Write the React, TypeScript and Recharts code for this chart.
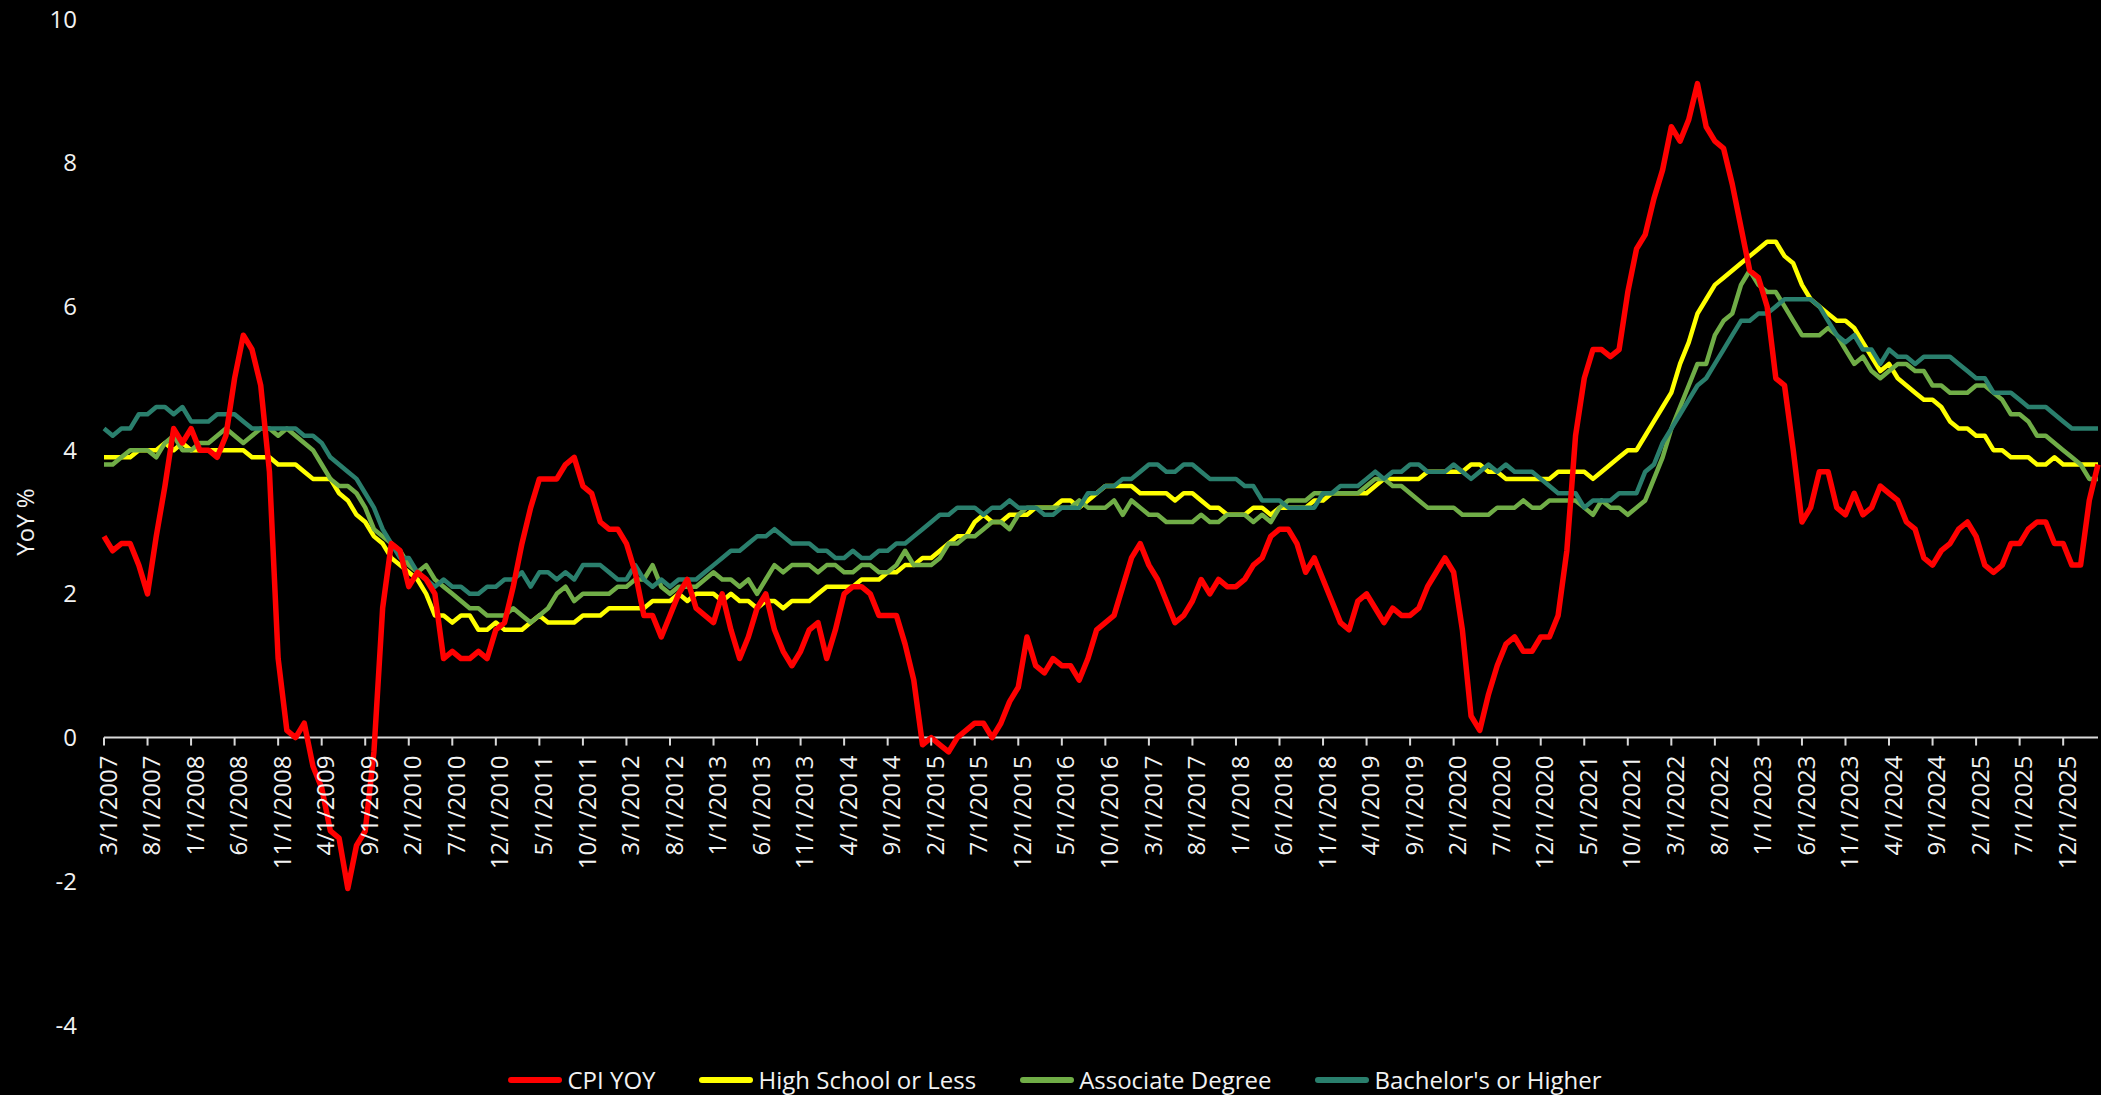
import React from 'react';
import { LineChart, Line, XAxis, YAxis, ReferenceLine, Legend } from 'recharts';

// monthly, 3/1/2007 .. 4/1/2026
const START_YEAR = 2007;
const START_MONTH = 3;
const N_MONTHS = 230;
const dates: string[] = [];
for (let i = 0; i < N_MONTHS; i++) {
  const m = ((START_MONTH - 1 + i) % 12) + 1;
  const y = START_YEAR + Math.floor((START_MONTH - 1 + i) / 12);
  dates.push(`${m}/1/${y}`);
}

const cpiYoy = [
  2.8, 2.6, 2.7, 2.7, 2.4, 2.0, 2.8, 3.5, 4.3, 4.1,
  4.3, 4.0, 4.0, 3.9, 4.2, 5.0, 5.6, 5.4, 4.9, 3.7,
  1.1, 0.1, 0.0, 0.2, -0.4, -0.7, -1.3, -1.4, -2.1, -1.5,
  -1.3, -0.2, 1.8, 2.7, 2.6, 2.1, 2.3, 2.2, 2.0, 1.1,
  1.2, 1.1, 1.1, 1.2, 1.1, 1.5, 1.6, 2.1, 2.7, 3.2,
  3.6, 3.6, 3.6, 3.8, 3.9, 3.5, 3.4, 3.0, 2.9, 2.9,
  2.7, 2.3, 1.7, 1.7, 1.4, 1.7, 2.0, 2.2, 1.8, 1.7,
  1.6, 2.0, 1.5, 1.1, 1.4, 1.8, 2.0, 1.5, 1.2, 1.0,
  1.2, 1.5, 1.6, 1.1, 1.5, 2.0, 2.1, 2.1, 2.0, 1.7,
  1.7, 1.7, 1.3, 0.8, -0.1, 0.0, -0.1, -0.2, 0.0, 0.1,
  0.2, 0.2, 0.0, 0.2, 0.5, 0.7, 1.4, 1.0, 0.9, 1.1,
  1.0, 1.0, 0.8, 1.1, 1.5, 1.6, 1.7, 2.1, 2.5, 2.7,
  2.4, 2.2, 1.9, 1.6, 1.7, 1.9, 2.2, 2.0, 2.2, 2.1,
  2.1, 2.2, 2.4, 2.5, 2.8, 2.9, 2.9, 2.7, 2.3, 2.5,
  2.2, 1.9, 1.6, 1.5, 1.9, 2.0, 1.8, 1.6, 1.8, 1.7,
  1.7, 1.8, 2.1, 2.3, 2.5, 2.3, 1.5, 0.3, 0.1, 0.6,
  1.0, 1.3, 1.4, 1.2, 1.2, 1.4, 1.4, 1.7, 2.6, 4.2,
  5.0, 5.4, 5.4, 5.3, 5.4, 6.2, 6.8, 7.0, 7.5, 7.9,
  8.5, 8.3, 8.6, 9.1, 8.5, 8.3, 8.2, 7.7, 7.1, 6.5,
  6.4, 6.0, 5.0, 4.9, 4.0, 3.0, 3.2, 3.7, 3.7, 3.2,
  3.1, 3.4, 3.1, 3.2, 3.5, 3.4, 3.3, 3.0, 2.9, 2.5,
  2.4, 2.6, 2.7, 2.9, 3.0, 2.8, 2.4, 2.3, 2.4, 2.7,
  2.7, 2.9, 3.0, 3.0, 2.7, 2.7, 2.4, 2.4, 3.3, 3.8,
];

const highSchool = [
  3.9, 3.9, 3.9, 3.9, 4.0, 4.0, 4.0, 4.1, 4.0, 4.1,
  4.0, 4.0, 4.0, 4.0, 4.0, 4.0, 4.0, 3.9, 3.9, 3.9,
  3.8, 3.8, 3.8, 3.7, 3.6, 3.6, 3.6, 3.4, 3.3, 3.1,
  3.0, 2.8, 2.7, 2.5, 2.4, 2.3, 2.2, 2.0, 1.7, 1.7,
  1.6, 1.7, 1.7, 1.5, 1.5, 1.6, 1.5, 1.5, 1.5, 1.6,
  1.7, 1.6, 1.6, 1.6, 1.6, 1.7, 1.7, 1.7, 1.8, 1.8,
  1.8, 1.8, 1.8, 1.9, 1.9, 1.9, 2.0, 1.9, 2.0, 2.0,
  2.0, 1.9, 2.0, 1.9, 1.9, 1.8, 1.9, 1.9, 1.8, 1.9,
  1.9, 1.9, 2.0, 2.1, 2.1, 2.1, 2.1, 2.2, 2.2, 2.2,
  2.3, 2.3, 2.4, 2.4, 2.5, 2.5, 2.6, 2.7, 2.8, 2.8,
  3.0, 3.1, 3.0, 3.0, 3.1, 3.1, 3.1, 3.2, 3.2, 3.2,
  3.3, 3.3, 3.2, 3.3, 3.4, 3.5, 3.5, 3.5, 3.5, 3.4,
  3.4, 3.4, 3.4, 3.3, 3.4, 3.4, 3.3, 3.2, 3.2, 3.1,
  3.1, 3.1, 3.2, 3.2, 3.1, 3.2, 3.2, 3.2, 3.2, 3.3,
  3.3, 3.4, 3.4, 3.4, 3.4, 3.4, 3.5, 3.6, 3.6, 3.6,
  3.6, 3.6, 3.7, 3.7, 3.7, 3.7, 3.7, 3.8, 3.8, 3.7,
  3.7, 3.6, 3.6, 3.6, 3.6, 3.6, 3.6, 3.7, 3.7, 3.7,
  3.7, 3.6, 3.7, 3.8, 3.9, 4.0, 4.0, 4.2, 4.4, 4.6,
  4.8, 5.2, 5.5, 5.9, 6.1, 6.3, 6.4, 6.5, 6.6, 6.7,
  6.8, 6.9, 6.9, 6.7, 6.6, 6.3, 6.1, 6.0, 5.9, 5.8,
  5.8, 5.7, 5.5, 5.3, 5.1, 5.2, 5.0, 4.9, 4.8, 4.7,
  4.7, 4.6, 4.4, 4.3, 4.3, 4.2, 4.2, 4.0, 4.0, 3.9,
  3.9, 3.9, 3.8, 3.8, 3.9, 3.8, 3.8, 3.8, 3.8, 3.8,
];

const associate = [
  3.8, 3.8, 3.9, 4.0, 4.0, 4.0, 3.9, 4.1, 4.2, 4.0,
  4.0, 4.1, 4.1, 4.2, 4.3, 4.2, 4.1, 4.2, 4.3, 4.3,
  4.2, 4.3, 4.2, 4.1, 4.0, 3.8, 3.6, 3.5, 3.5, 3.4,
  3.2, 2.9, 2.8, 2.7, 2.6, 2.4, 2.3, 2.4, 2.2, 2.1,
  2.0, 1.9, 1.8, 1.8, 1.7, 1.7, 1.7, 1.8, 1.7, 1.6,
  1.7, 1.8, 2.0, 2.1, 1.9, 2.0, 2.0, 2.0, 2.0, 2.1,
  2.1, 2.2, 2.2, 2.4, 2.1, 2.0, 2.1, 2.1, 2.1, 2.2,
  2.3, 2.2, 2.2, 2.1, 2.2, 2.0, 2.2, 2.4, 2.3, 2.4,
  2.4, 2.4, 2.3, 2.4, 2.4, 2.3, 2.3, 2.4, 2.4, 2.3,
  2.3, 2.4, 2.6, 2.4, 2.4, 2.4, 2.5, 2.7, 2.7, 2.8,
  2.8, 2.9, 3.0, 3.0, 2.9, 3.1, 3.2, 3.2, 3.2, 3.2,
  3.2, 3.2, 3.3, 3.2, 3.2, 3.2, 3.3, 3.1, 3.3, 3.2,
  3.1, 3.1, 3.0, 3.0, 3.0, 3.0, 3.1, 3.0, 3.0, 3.1,
  3.1, 3.1, 3.0, 3.1, 3.0, 3.2, 3.3, 3.3, 3.3, 3.4,
  3.4, 3.4, 3.4, 3.4, 3.4, 3.5, 3.6, 3.6, 3.5, 3.5,
  3.4, 3.3, 3.2, 3.2, 3.2, 3.2, 3.1, 3.1, 3.1, 3.1,
  3.2, 3.2, 3.2, 3.3, 3.2, 3.2, 3.3, 3.3, 3.3, 3.3,
  3.2, 3.1, 3.3, 3.2, 3.2, 3.1, 3.2, 3.3, 3.6, 3.9,
  4.3, 4.6, 4.9, 5.2, 5.2, 5.6, 5.8, 5.9, 6.3, 6.5,
  6.3, 6.2, 6.2, 6.0, 5.8, 5.6, 5.6, 5.6, 5.7, 5.6,
  5.4, 5.2, 5.3, 5.1, 5.0, 5.1, 5.2, 5.2, 5.1, 5.1,
  4.9, 4.9, 4.8, 4.8, 4.8, 4.9, 4.9, 4.8, 4.7, 4.5,
  4.5, 4.4, 4.2, 4.2, 4.1, 4.0, 3.9, 3.8, 3.6, 3.6,
];

const bachelors = [
  4.3, 4.2, 4.3, 4.3, 4.5, 4.5, 4.6, 4.6, 4.5, 4.6,
  4.4, 4.4, 4.4, 4.5, 4.5, 4.5, 4.4, 4.3, 4.3, 4.3,
  4.3, 4.3, 4.3, 4.2, 4.2, 4.1, 3.9, 3.8, 3.7, 3.6,
  3.4, 3.2, 2.9, 2.7, 2.5, 2.5, 2.3, 2.2, 2.1, 2.2,
  2.1, 2.1, 2.0, 2.0, 2.1, 2.1, 2.2, 2.2, 2.3, 2.1,
  2.3, 2.3, 2.2, 2.3, 2.2, 2.4, 2.4, 2.4, 2.3, 2.2,
  2.2, 2.4, 2.2, 2.1, 2.2, 2.1, 2.2, 2.2, 2.2, 2.3,
  2.4, 2.5, 2.6, 2.6, 2.7, 2.8, 2.8, 2.9, 2.8, 2.7,
  2.7, 2.7, 2.6, 2.6, 2.5, 2.5, 2.6, 2.5, 2.5, 2.6,
  2.6, 2.7, 2.7, 2.8, 2.9, 3.0, 3.1, 3.1, 3.2, 3.2,
  3.2, 3.1, 3.2, 3.2, 3.3, 3.2, 3.2, 3.2, 3.1, 3.1,
  3.2, 3.2, 3.2, 3.4, 3.4, 3.5, 3.5, 3.6, 3.6, 3.7,
  3.8, 3.8, 3.7, 3.7, 3.8, 3.8, 3.7, 3.6, 3.6, 3.6,
  3.6, 3.5, 3.5, 3.3, 3.3, 3.3, 3.2, 3.2, 3.2, 3.2,
  3.4, 3.4, 3.5, 3.5, 3.5, 3.6, 3.7, 3.6, 3.7, 3.7,
  3.8, 3.8, 3.7, 3.7, 3.7, 3.8, 3.7, 3.6, 3.7, 3.8,
  3.7, 3.8, 3.7, 3.7, 3.7, 3.6, 3.5, 3.4, 3.4, 3.4,
  3.2, 3.3, 3.3, 3.3, 3.4, 3.4, 3.4, 3.7, 3.8, 4.1,
  4.3, 4.5, 4.7, 4.9, 5.0, 5.2, 5.4, 5.6, 5.8, 5.8,
  5.9, 5.9, 6.0, 6.1, 6.1, 6.1, 6.1, 6.0, 5.8, 5.6,
  5.5, 5.6, 5.4, 5.4, 5.2, 5.4, 5.3, 5.3, 5.2, 5.3,
  5.3, 5.3, 5.3, 5.2, 5.1, 5.0, 5.0, 4.8, 4.8, 4.8,
  4.7, 4.6, 4.6, 4.6, 4.5, 4.4, 4.3, 4.3, 4.3, 4.3,
];

const yTicks = [-4, -2, 0, 2, 4, 6, 8, 10];
const Y_MIN = -4;
const Y_MAX = 10;

const series = [
  { key: 'cpi', name: 'CPI YOY', color: '#FF0000', width: 5.5 },
  { key: 'hs', name: 'High School or Less', color: '#FFFF00', width: 4.5 },
  { key: 'assoc', name: 'Associate Degree', color: '#70AD47', width: 4.5 },
  { key: 'bach', name: "Bachelor's or Higher", color: '#2A7F6D', width: 4.5 },
];

const data = dates.map((d, i) => ({
  date: d,
  cpi: cpiYoy[i],
  hs: highSchool[i],
  assoc: associate[i],
  bach: bachelors[i],
}));

const FONT = '"Open Sans", sans-serif';
const TEXT = '#F2F2F2';
const AXIS = '#D9D9D9';
const W = 2101;
const H = 1095;
const MARGIN = { top: 19, right: 3, left: 0, bottom: 1 };

// x axis sits on the zero line, so shift each tick from the plot bottom up to y = 0
const DateTick = (props: any) => {
  const { x, y, payload } = props;
  const top = MARGIN.top;
  const zeroY = top + (y - top) * (Y_MAX - 0) / (Y_MAX - Y_MIN);
  return (
    <g transform={`translate(${x},${zeroY})`}>
      <line x1={0} y1={0} x2={0} y2={8} stroke={AXIS} strokeWidth={2} />
      <text
        transform="rotate(-90)"
        x={-18}
        y={4}
        dy="0.36em"
        textAnchor="end"
        fill={TEXT}
        fontSize={24}
        fontFamily={FONT}
      >
        {payload.value}
      </text>
    </g>
  );
};

const YLabel = (props: any) => {
  const vb = props.viewBox || { x: 0, y: MARGIN.top, width: 104, height: 1006 };
  const cx = vb.x + 24;
  const cy = vb.y + vb.height / 2;
  return (
    <text
      x={cx}
      y={cy}
      transform={`rotate(-90, ${cx}, ${cy})`}
      textAnchor="middle"
      dominantBaseline="central"
      fill={TEXT}
      fontSize={24}
      fontFamily={FONT}
    >
      YoY %
    </text>
  );
};

const LegendBox = () => (
  <div
    style={{
      display: 'flex',
      justifyContent: 'center',
      alignItems: 'center',
      height: 30,
      paddingTop: 2,
      paddingLeft: 12,
      boxSizing: 'border-box',
      gap: 44,
      fontFamily: FONT,
      fontSize: 24,
      color: TEXT,
      lineHeight: '24px',
    }}
  >
    {series.map((s) => (
      <div key={s.key} style={{ display: 'flex', alignItems: 'center' }}>
        <svg width={54} height={8}>
          <line x1={3} y1={4} x2={51} y2={4} stroke={s.color} strokeWidth={6} strokeLinecap="round" />
        </svg>
        <span style={{ marginLeft: 5, whiteSpace: 'nowrap' }}>{s.name}</span>
      </div>
    ))}
  </div>
);

export default function App() {
  // draw wage lines first and CPI on top
  const drawOrder = [series[1], series[2], series[3], series[0]];
  return (
    <div style={{ position: 'absolute', left: 0, top: 0, width: W, height: H, background: '#000' }}>
      <LineChart width={W} height={H} data={data} margin={MARGIN}>
        <XAxis
          dataKey="date"
          interval={4}
          height={39}
          axisLine={false}
          tickLine={false}
          tickSize={0}
          tickMargin={0}
          tick={<DateTick />}
        />
        <YAxis
          domain={[Y_MIN, Y_MAX]}
          ticks={yTicks}
          width={104}
          axisLine={false}
          tickLine={false}
          tickSize={0}
          tickMargin={27}
          tick={{ fill: TEXT, fontSize: 24, fontFamily: FONT }}
          label={<YLabel />}
        />
        <ReferenceLine y={0} stroke={AXIS} strokeWidth={2} />
        {drawOrder.map((s) => (
          <Line
            key={s.key}
            type="linear"
            dataKey={s.key}
            name={s.name}
            stroke={s.color}
            strokeWidth={s.width}
            strokeLinejoin="round"
            dot={false}
            activeDot={false}
            isAnimationActive={false}
          />
        ))}
        <Legend verticalAlign="bottom" content={<LegendBox />} />
      </LineChart>
    </div>
  );
}
